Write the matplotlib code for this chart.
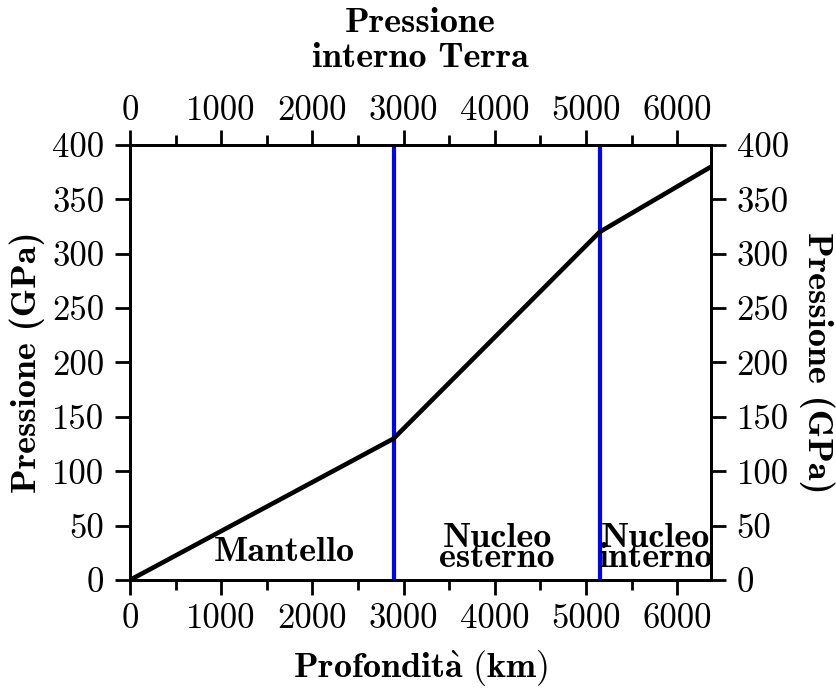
import matplotlib
matplotlib.use('Agg')
import matplotlib.pyplot as plt
from matplotlib.ticker import MultipleLocator

plt.rcParams['mathtext.fontset'] = 'cm'

# Dati: profondita' (km) e pressione (GPa)
profondita = [0, 2890, 5150, 6371]
pressione = [0, 130, 320, 380]
confini = [2890, 5150]
xticks = [0, 1000, 2000, 3000, 4000, 5000, 6000]
yticks = [0, 50, 100, 150, 200, 250, 300, 350, 400]
regioni = ['Mantello', 'Nucleo\nesterno', 'Nucleo\ninterno']
regioni_x = [1690, 4025, 5760]
regioni_y = [17.5, 12.2, 12.2]

roman = ['cmr10', 'DejaVu Serif']
bold = ['cmb10', 'DejaVu Serif']

fig = plt.figure(figsize=(8.36, 6.9), dpi=100)
ax = fig.add_axes([0.1555, 0.1594, 0.695, 0.6305])

for c in confini:
    ax.axvline(c, color='blue', lw=3, zorder=2)
ax.plot(profondita, pressione, color='black', lw=3.3, zorder=3, solid_capstyle='butt')

for testo, x, y in zip(regioni, regioni_x, regioni_y):
    ax.text(x, y, testo, family=bold, fontsize=26, ha='center', va='baseline',
            linespacing=0.55, zorder=4)

ax.set_xlim(0, 6371)
ax.set_ylim(0, 400)

# assi gemelli per le etichette in alto e a destra
axt = ax.twiny()
axr = ax.twinx()
axt.set_xlim(ax.get_xlim())
axr.set_ylim(ax.get_ylim())

for a in (ax, axt):
    a.set_xticks(xticks, [str(v) for v in xticks], family=roman, fontsize=25)
    a.xaxis.set_minor_locator(MultipleLocator(500))
for a in (ax, axr):
    a.set_yticks(yticks, [str(v) for v in yticks], family=roman, fontsize=25)

for a in (ax, axt, axr):
    a.tick_params(which='major', direction='out', length=10.5, width=2)
    a.tick_params(which='minor', direction='out', length=7, width=2)
    for s in a.spines.values():
        s.set_linewidth(2)
ax.tick_params(axis='x', which='major', pad=6)
axt.tick_params(axis='x', which='major', pad=2.5)
ax.tick_params(axis='y', which='major', pad=8)
axr.tick_params(axis='y', which='major', pad=8)
axr.tick_params(axis='x', which='both', bottom=False, top=False)

ax.set_xlabel(r'$\mathbf{Profondit\grave{a}\ (km)}$', fontsize=26, labelpad=10)
ax.set_ylabel('Pressione (GPa)', family=bold, fontsize=26, labelpad=5)
axr.set_ylabel('Pressione (GPa)', family=bold, fontsize=26, labelpad=7,
               rotation=270, va='bottom')
axt.set_xlabel('Pressione\ninterno Terra', family=bold, fontsize=26, labelpad=20,
               linespacing=1.2)

fig.savefig('out.png', dpi=100)
